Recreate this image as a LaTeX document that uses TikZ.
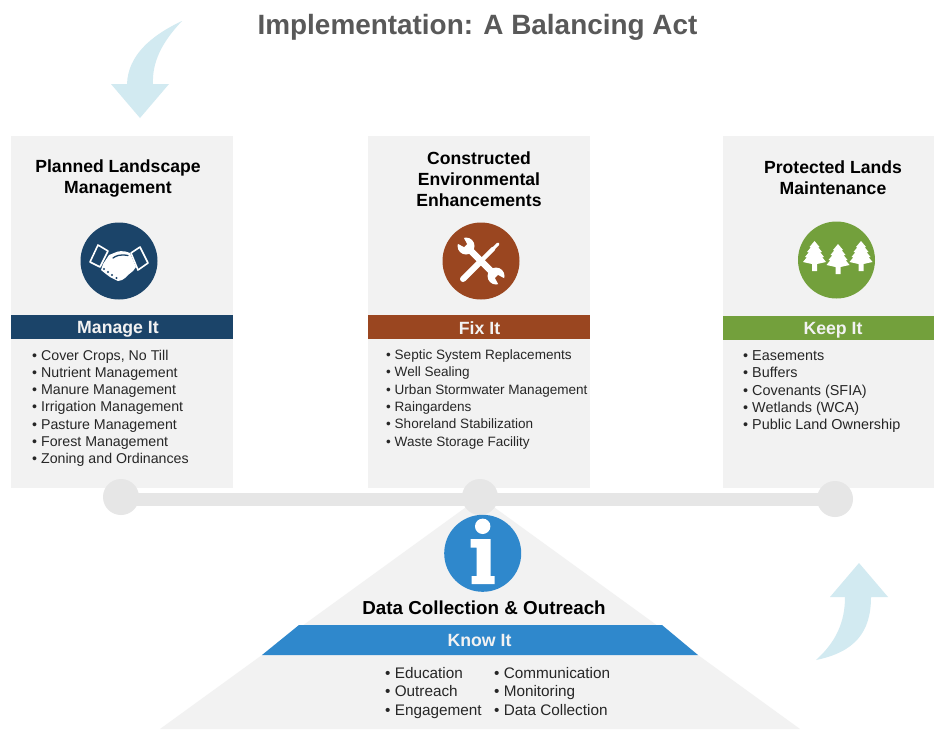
\documentclass[tikz,border=0pt]{standalone}
\usepackage{fontspec}
\usetikzlibrary{calc}
\setmainfont{Liberation Sans}
\definecolor{panel}{HTML}{F2F2F2}
\definecolor{beam}{HTML}{E6E6E6}
\definecolor{navy}{HTML}{1B4469}
\definecolor{rust}{HTML}{9A4620}
\definecolor{leaf}{HTML}{73A03C}
\definecolor{sky}{HTML}{2F88CC}
\definecolor{pale}{HTML}{D2EAF1}
\definecolor{titlegray}{HTML}{595959}
\tikzset{
  x=1pt,y=-1pt,
  panelbox/.style={fill=panel,draw=none,minimum height=352pt,anchor=north west,inner sep=0pt},
  bandbox/.style={draw=none,minimum height=24pt,anchor=north west,inner sep=0pt},
  bandtext/.style={inner sep=0pt,text=panel,font=\bfseries\fontsize{17.7}{18}\selectfont},
  heading/.style={align=center,inner sep=0pt,font=\bfseries\fontsize{17.6}{21}\selectfont,text=black},
  listing/.style={align=left,anchor=north west,inner sep=0pt,text=black!85},
  iconcircle/.style={circle,minimum size=77pt,inner sep=0pt,draw=none},
  pivot/.style={circle,fill=beam,minimum size=36pt,inner sep=0pt,draw=none},
  bigarrow/.style={fill=pale,draw=none},
  beamline/.style={draw=beam,line width=12.5pt},
}
\begin{document}
\begin{tikzpicture}
\useasboundingbox (0,0) rectangle (934,729);
\fill[white] (0,0) rectangle (934,729);
% title
\node[inner sep=0pt,text=titlegray,font=\bfseries\fontsize{27.9}{28}\selectfont] (title) at (477.5,27) {Implementation: A Balancing Act};
% curved arrows
\fill[bigarrow] (182,21) .. controls (150,36) and (128,56) .. (127,84) -- (111,84) -- (140,118) -- (169,84) -- (153,84) .. controls (152,62) and (162,42) .. (182,21) -- cycle;
\fill[bigarrow] (816,660) .. controls (855,652) and (871,632) .. (871,597) -- (888,597) -- (859,563) -- (830,597) -- (845,597) .. controls (845,622) and (836,642) .. (816,660) -- cycle;
% fulcrum
\fill[panel] (480,497) -- (800,729) -- (160,729) -- cycle;
% panels
\node[panelbox,minimum width=222pt] (pa) at (11,136) {};
\node[panelbox,minimum width=222pt] (pb) at (368,136) {};
\node[panelbox,minimum width=211pt] (pc) at (723,136) {};
% beam
\coordinate (ea) at (121,499.5);
\coordinate (ec) at (835,499.5);
\draw[beamline] (ea) -- (ec);
\node[pivot] (la) at (121,497) {};
\node[pivot] (lb) at (480,497) {};
\node[pivot] (lc) at (835,499) {};
% bands
\node[bandbox,fill=navy,minimum width=222pt] (ba) at (11,315) {};
\node[bandbox,fill=rust,minimum width=222pt] (bb) at (368,315) {};
\node[bandbox,fill=leaf,minimum width=211pt] (bc) at (723,316) {};
\node[bandtext] (ta) at (118,329) {Manage It};
\node[bandtext] (tb) at (479.5,328) {Fix It};
\node[bandtext] (tc) at (833,330) {Keep It};
% headings
\node[heading] (ha) at (118,178) {Planned Landscape\\Management};
\node[heading] (hb) at (479,179) {Constructed\\Environmental\\Enhancements};
\node[heading] (hc) at (833,177.5) {Protected Lands\\Maintenance};
% lists
\node[listing,font=\fontsize{14.2}{17.3}\selectfont] (la1) at (32,349.5) {• Cover Crops, No Till\\• Nutrient Management\\• Manure Management\\• Irrigation Management\\• Pasture Management\\• Forest Management\\• Zoning and Ordinances};
\node[listing,font=\fontsize{13.55}{17.3}\selectfont] (lb1) at (386,349.5) {• Septic System Replacements\\• Well Sealing\\• Urban Stormwater Management\\• Raingardens\\• Shoreland Stabilization\\• Waste Storage Facility};
\node[listing,font=\fontsize{14.4}{17.3}\selectfont] (lc1) at (743,350.5) {• Easements\\• Buffers\\• Covenants (SFIA)\\• Wetlands (WCA)\\• Public Land Ownership};
% icon 1: handshake
\node[iconcircle,fill=navy] (ia) at (119,261) {};
\begin{scope}[shift={(ia.center)}]
  \draw[white,line width=1.6pt,line join=round,fill=navy] (-29,1) -- (-21,-16) -- (-11,-10) -- (-19,6) -- cycle;
  \draw[white,line width=1.6pt,line join=round,fill=navy] (29,2) -- (21,-14) -- (12,-8) -- (19,9) -- cycle;
  \fill[white] (-16,3) -- (-10,-6) -- (-5,-8) .. controls (-1,-10) and (4,-11) .. (11,-8) -- (17,6)
     -- (14,10) -- (9,14) -- (6,17) -- (3,19) -- (-1,20) -- (-5,18) -- (-9,16) -- (-13,13) -- (-18,9) -- cycle;
  \draw[navy,line width=1.3pt,line cap=round] (-6,-3) .. controls (-3,-5) and (0,-7) .. (9,-5.5);
  \foreach \p in {(-15,8),(-11,11),(-7,14),(-2.5,17)} \fill[navy] \p circle (1.2);
\end{scope}
% icon 2: tools
\node[iconcircle,fill=rust] (ib) at (481,261) {};
\begin{scope}[shift={(ib.center)}]
  \draw[white,line width=6pt,line cap=round] (-2,2) -- (-18,18);
  \draw[white,line width=4.5pt,line cap=round] (0,0) -- (12,-12);
  \draw[white,line width=3pt,line cap=round] (10,-10) -- (17,-17);
  \draw[white,line width=6.5pt] (-15,-15) -- (15,15);
  \fill[white] (15,15) circle (8.5);
  \fill[white] (-15,-15) circle (8.5);
  \fill[rust] (14,17) -- (17,14) -- (28,20) -- (20,28) -- cycle;
  \fill[rust] (-14,-17) -- (-17,-14) -- (-28,-20) -- (-20,-28) -- cycle;
\end{scope}
% icon 3: trees
\node[iconcircle,fill=leaf] (ic) at (836.5,260) {};
\foreach \dx/\dy in {-22/-4,1.5/-1,24.5/-4}{
\begin{scope}[shift={($(ic.center)+(\dx,\dy)$)}]
  \fill[white] (0,-15) -- (5,-9) -- (3.5,-9) -- (7.5,-4) -- (5.5,-4) -- (9.5,1) -- (7.5,1) -- (11.5,6) -- (2.5,8) -- (2.5,15) -- (-2.5,15) -- (-2.5,8) -- (-11.5,6) -- (-7.5,1) -- (-9.5,1) -- (-5.5,-4) -- (-7.5,-4) -- (-3.5,-9) -- (-5,-9) -- cycle;
\end{scope}}
% icon 4: info
\node[iconcircle,fill=sky] (id) at (482.7,553.3) {};
\begin{scope}[shift={(id.center)}]
  \fill[white] (0,-27) circle (7.7);
  \fill[white] (-12,-14.3) -- (8,-14.3) -- (8,22.7) -- (12,22.7) -- (12,30.7) -- (-11,30.7) -- (-11,22.7) -- (-6,22.7) -- (-6,-5.7) -- (-12,-5.7) -- cycle;
\end{scope}
% know it
\node[heading,font=\bfseries\fontsize{18.8}{20}\selectfont] (hd) at (484,608) {Data Collection \& Outreach};
\fill[sky] (299,625) -- (662,625) -- (698,655) -- (262,655) -- cycle;
\node[bandtext] (kn) at (479.5,640) {Know It};
\node[listing,font=\fontsize{15.3}{18.5}\selectfont] (ld1) at (385,667) {• Education\\• Outreach\\• Engagement};
\node[listing,font=\fontsize{15.3}{18.5}\selectfont] (ld2) at (494,667) {• Communication\\• Monitoring\\• Data Collection};
\end{tikzpicture}
\end{document}
